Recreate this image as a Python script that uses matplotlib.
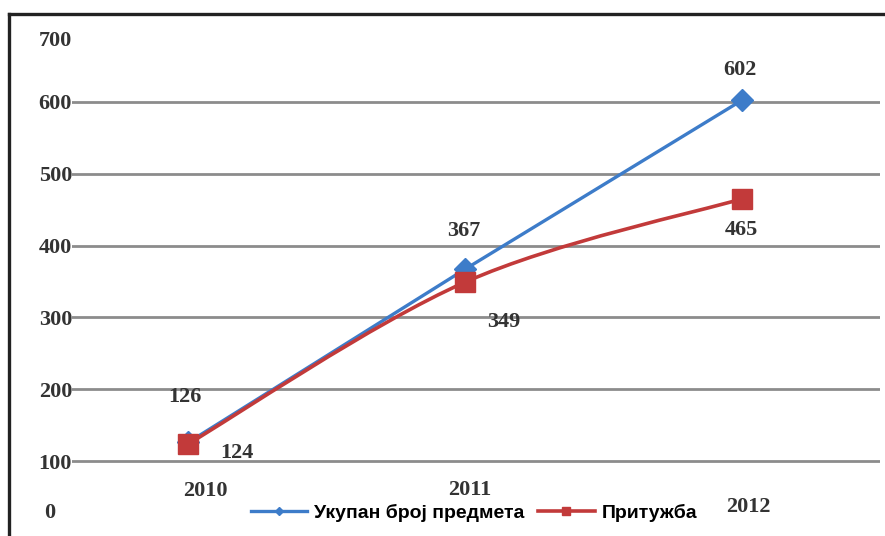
import numpy as np
import matplotlib.pyplot as plt
from matplotlib.path import Path
from matplotlib.patches import PathPatch
from matplotlib.lines import Line2D

years = ['2010', '2011', '2012']
ukupno = [126, 367, 602]
prituzba = [124, 349, 465]
yticks = [100, 200, 300, 400, 500, 600]

blue = '#3d7cc9'
red = '#c23a3a'
serif = 'Liberation Serif'
sans = 'Liberation Sans'
fs = 16

fig = plt.figure(figsize=(8.85, 5.36), dpi=100)
ax = fig.add_axes([72 / 885, 3 / 536, 808 / 885, 503 / 536])
x = np.arange(len(years))

ax.set_xlim(-0.42, 2.5)
ax.set_ylim(0, 700)
for s in ax.spines.values():
    s.set_visible(False)
ax.set_xticks([])
ax.set_yticks(yticks)
ax.set_yticklabels([str(v) for v in yticks], family=serif, fontweight='bold',
                   fontsize=fs, color='#333333')
ax.tick_params(axis='y', length=0, pad=0)
ax.grid(axis='y', color='#8c8c8c', lw=2)
ax.set_axisbelow(True)

# extra labels for 0 and 700 (no gridlines there)
ax.text(-0.027, 0.04, '0', transform=ax.transAxes, ha='center', va='center',
        family=serif, fontweight='bold', fontsize=fs, color='#333333')
ax.text(0.0, 0.978, '700', transform=ax.transAxes, ha='right', va='center',
        family=serif, fontweight='bold', fontsize=fs, color='#333333')

# year labels
year_off = [(17, -30), (5, -29), (7, -46)]
for i, yr in enumerate(years):
    ax.annotate(yr, (x[i], 100), xytext=year_off[i], textcoords='offset pixels',
                ha='center', va='center', family=serif, fontweight='bold',
                fontsize=fs, color='#333333')

# blue series, straight
ax.plot(x, ukupno, color=blue, lw=2.4, marker='D', ms=11, zorder=3)

# red series, smoothed curve through the points
pts = np.column_stack([x, prituzba]).astype(float)
verts = [pts[0]]
codes = [Path.MOVETO]
for i in range(len(pts) - 1):
    p0 = pts[max(i - 1, 0)]
    p1 = pts[i]
    p2 = pts[i + 1]
    p3 = pts[min(i + 2, len(pts) - 1)]
    c1 = p1 + (p2 - p0) / 6
    c2 = p2 - (p3 - p1) / 6
    verts += [c1, c2, p2]
    codes += [Path.CURVE4] * 3
ax.add_patch(PathPatch(Path(verts, codes), fill=False, edgecolor=red, lw=2.6, zorder=4))
ax.plot(x, prituzba, ls='none', marker='s', ms=14, color=red, zorder=5)

# value labels
offs_b = [(-3, 45), (-1, 38), (-2, 30)]
offs_r = [(49, -9), (39, -40), (0, -31)]
for i in range(len(years)):
    ax.annotate(str(ukupno[i]), (x[i], ukupno[i]), xytext=offs_b[i],
                textcoords='offset pixels', ha='center', va='center',
                family=serif, fontweight='bold', fontsize=fs, color='#333333')
    ax.annotate(str(prituzba[i]), (x[i], prituzba[i]), xytext=offs_r[i],
                textcoords='offset pixels', ha='center', va='center',
                family=serif, fontweight='bold', fontsize=fs, color='#333333')

handles = [Line2D([], [], color=blue, lw=2.4, marker='D', ms=4),
           Line2D([], [], color=red, lw=2.6, marker='s', ms=6)]
fig.legend(handles, ['Укупан број предмета', 'Притужба'], loc='center',
           bbox_to_anchor=(474 / 885, 1 - 513 / 536), ncol=2, frameon=False,
           handlelength=2.9, handletextpad=0.35, columnspacing=0.7,
           prop={'family': sans, 'weight': 'bold', 'size': 14})

# outer frame
fig.add_artist(Line2D([9 / 885, 1], [1 - 14 / 536, 1 - 14 / 536],
                      transform=fig.transFigure, color='#222222', lw=2.4))
fig.add_artist(Line2D([9 / 885, 9 / 885], [0, 1 - 14 / 536],
                      transform=fig.transFigure, color='#222222', lw=2.4))

fig.savefig('out.png', dpi=100)
